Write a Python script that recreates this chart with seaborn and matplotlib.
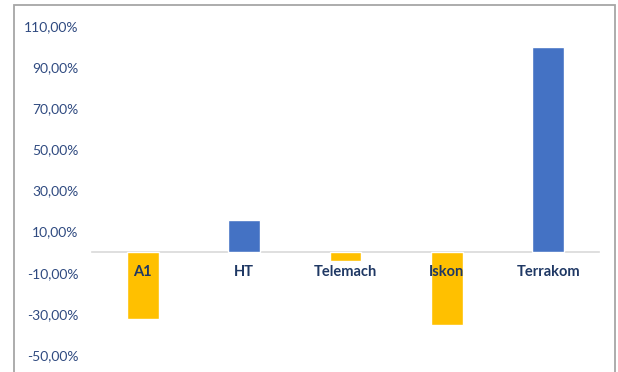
import matplotlib
matplotlib.use("Agg")
import matplotlib.pyplot as plt
import seaborn as sns
import pandas as pd
from matplotlib.patches import Rectangle
from matplotlib.ticker import FuncFormatter

categories = ["A1", "HT", "Telemach", "Iskon", "Terrakom"]
values = [-32.5, 15.7, -4.4, -35.3, 100.0]
yticks = [-50, -30, -10, 10, 30, 50, 70, 90, 110]

sns.set_theme(style="white")
plt.rcParams['font.family'] = ['Lato', 'DejaVu Sans']

fig = plt.figure(figsize=(6.18, 3.72), dpi=100)
ax = fig.add_axes([92/618, 17/372, 507/618, 329/372])

df = pd.DataFrame({"cat": categories, "val": values})
palette = {c: ("#FFC000" if v < 0 else "#4472C4") for c, v in zip(categories, values)}
sns.barplot(data=df, x="cat", y="val", hue="cat", palette=palette, legend=False,
            width=0.315, saturation=1, ax=ax, zorder=2)

ax.set_ylim(-50, 110)
ax.set_xlim(-0.5, len(categories) - 0.5)
ax.set_yticks(yticks)
ax.yaxis.set_major_formatter(FuncFormatter(lambda v, p: f"{v:.2f}".replace(".", ",") + "%"))
ax.tick_params(axis="y", length=0, pad=9.7, labelsize=10, labelcolor="#2F4A80")
ax.set_xlabel("")
ax.set_ylabel("")

for s in ["left", "right", "top"]:
    ax.spines[s].set_visible(False)
ax.spines["bottom"].set_position(("data", 0))
ax.spines["bottom"].set_color("#D9D9D9")
ax.spines["bottom"].set_linewidth(1.2)
ax.spines["bottom"].set_zorder(1)
ax.tick_params(axis="x", length=0, labelbottom=False)

for i, c in enumerate(categories):
    ax.annotate(c, xy=(i, 0), xytext=(0, -9), textcoords="offset points",
                ha="center", va="top", fontsize=10.5, fontweight="bold",
                color="#1F3864", zorder=5)

fig.patches.append(Rectangle((14/618, -0.05), 601/618, (367/372) + 0.05,
                             transform=fig.transFigure, fill=False,
                             edgecolor="#A6A6A6", linewidth=1.3))

fig.savefig("out.png", dpi=100)
